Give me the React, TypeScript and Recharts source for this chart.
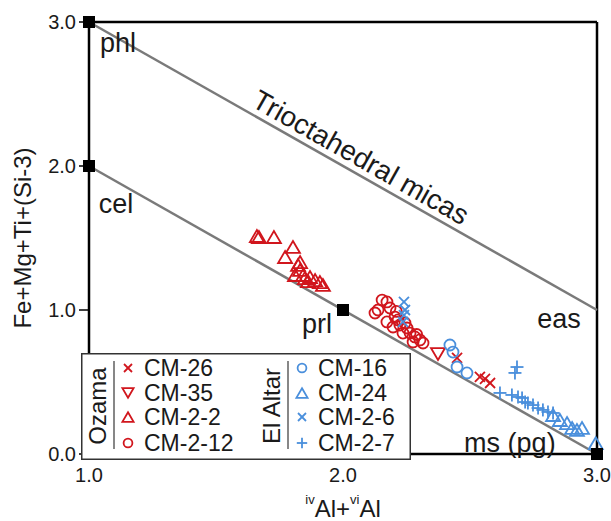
import React from 'react';
import {
  Legend,
  ReferenceDot,
  ReferenceLine,
  Scatter,
  ScatterChart,
  XAxis,
  YAxis,
} from 'recharts';

const RED = '#d1161d';
const BLUE = '#4a8fdc';
const GRAY = '#7a7a7a';

// Ozama
const cm26 = [
  { x: 2.449, y: 0.667 },
  { x: 2.539, y: 0.535 },
  { x: 2.559, y: 0.521 },
  { x: 2.579, y: 0.493 },
];
const cm35 = [{ x: 2.374, y: 0.694 }];
const cm2_2 = [
  { x: 1.661, y: 1.514 },
  { x: 1.669, y: 1.507 },
  { x: 1.728, y: 1.507 },
  { x: 1.803, y: 1.438 },
  { x: 1.772, y: 1.368 },
  { x: 1.831, y: 1.333 },
  { x: 1.823, y: 1.313 },
  { x: 1.831, y: 1.278 },
  { x: 1.811, y: 1.243 },
  { x: 1.843, y: 1.243 },
  { x: 1.85, y: 1.222 },
  { x: 1.87, y: 1.229 },
  { x: 1.862, y: 1.201 },
  { x: 1.89, y: 1.208 },
  { x: 1.909, y: 1.194 },
  { x: 1.921, y: 1.174 },
];
const cm2_12 = [
  { x: 2.154, y: 1.069 },
  { x: 2.173, y: 1.056 },
  { x: 2.138, y: 1.0 },
  { x: 2.126, y: 0.979 },
  { x: 2.185, y: 1.014 },
  { x: 2.205, y: 0.951 },
  { x: 2.217, y: 0.931 },
  { x: 2.173, y: 0.917 },
  { x: 2.224, y: 0.896 },
  { x: 2.252, y: 0.875 },
  { x: 2.264, y: 0.84 },
  { x: 2.283, y: 0.813 },
  { x: 2.303, y: 0.792 },
  { x: 2.315, y: 0.771 },
  { x: 2.197, y: 0.882 },
  { x: 2.236, y: 0.84 },
  { x: 2.276, y: 0.778 },
  { x: 2.244, y: 0.91 },
  { x: 2.29, y: 0.83 },
  { x: 2.21, y: 0.99 },
];

// El Altar
const cm16 = [
  { x: 2.421, y: 0.757 },
  { x: 2.433, y: 0.708 },
  { x: 2.449, y: 0.604 },
  { x: 2.488, y: 0.563 },
];
const cm24 = [
  { x: 2.827, y: 0.271 },
  { x: 2.854, y: 0.236 },
  { x: 2.882, y: 0.215 },
  { x: 2.902, y: 0.181 },
  { x: 2.921, y: 0.167 },
  { x: 2.941, y: 0.181 },
  { x: 2.995, y: 0.075 },
];
const cm2_6 = [
  { x: 2.24, y: 1.056 },
  { x: 2.244, y: 1.0 },
  { x: 2.24, y: 0.965 },
  { x: 2.236, y: 0.917 },
];
const cm2_7 = [
  { x: 2.685, y: 0.604 },
  { x: 2.677, y: 0.563 },
  { x: 2.618, y: 0.424 },
  { x: 2.665, y: 0.41 },
  { x: 2.689, y: 0.396 },
  { x: 2.705, y: 0.389 },
  { x: 2.717, y: 0.361 },
  { x: 2.728, y: 0.354 },
  { x: 2.748, y: 0.34 },
  { x: 2.768, y: 0.319 },
  { x: 2.787, y: 0.306 },
  { x: 2.807, y: 0.292 },
  { x: 2.827, y: 0.285 },
];

// end members and the two reference lines
const endMembers = [
  { x: 1, y: 3 },
  { x: 1, y: 2 },
  { x: 2, y: 1 },
  { x: 3, y: 0 },
];
const trioctaLine = [
  { x: 1, y: 3 },
  { x: 3, y: 1 },
];
const dioctaLine = [
  { x: 1, y: 2 },
  { x: 3, y: 0 },
];

const annotations = [
  { x: 1.114, y: 2.861, text: 'phl', angle: 0 },
  { x: 1.106, y: 1.743, text: 'cel', angle: 0 },
  { x: 1.898, y: 0.91, text: 'prl', angle: 0 },
  { x: 2.85, y: 0.944, text: 'eas', angle: 0 },
  { x: 2.657, y: 0.083, text: 'ms (pg)', angle: 0 },
  { x: 2.071, y: 2.062, text: 'Trioctahedral micas', angle: 29.55 },
];

const xTicks = [1, 2, 3];
const yTicks = [0, 1, 2, 3];

type Kind = 'x' | 'down' | 'up' | 'o' | 'plus';

const Marker = ({ kind, cx, cy, color, s = 1 }: any) => {
  const sw = 1.8;
  if (kind === 'x') {
    const h = 5 * s;
    return (
      <g stroke={color} strokeWidth={sw}>
        <line x1={cx - h} y1={cy - h} x2={cx + h} y2={cy + h} />
        <line x1={cx - h} y1={cy + h} x2={cx + h} y2={cy - h} />
      </g>
    );
  }
  if (kind === 'plus') {
    const h = 6.5 * s;
    return (
      <g stroke={color} strokeWidth={sw}>
        <line x1={cx - h} y1={cy} x2={cx + h} y2={cy} />
        <line x1={cx} y1={cy - h} x2={cx} y2={cy + h} />
      </g>
    );
  }
  if (kind === 'o') {
    return <circle cx={cx} cy={cy} r={5.5 * s} fill="none" stroke={color} strokeWidth={sw} />;
  }
  const w = 7 * s;
  const h = 6 * s;
  const pts =
    kind === 'up'
      ? `${cx},${cy - h} ${cx + w},${cy + h} ${cx - w},${cy + h}`
      : `${cx},${cy + h} ${cx + w},${cy - h} ${cx - w},${cy - h}`;
  return <polygon points={pts} fill="none" stroke={color} strokeWidth={sw} strokeLinejoin="miter" />;
};

const series: { name: string; data: any[]; kind: Kind; color: string }[] = [
  { name: 'CM-26', data: cm26, kind: 'x', color: RED },
  { name: 'CM-35', data: cm35, kind: 'down', color: RED },
  { name: 'CM-2-2', data: cm2_2, kind: 'up', color: RED },
  { name: 'CM-2-12', data: cm2_12, kind: 'o', color: RED },
  { name: 'CM-16', data: cm16, kind: 'o', color: BLUE },
  { name: 'CM-24', data: cm24, kind: 'up', color: BLUE },
  { name: 'CM-2-6', data: cm2_6, kind: 'x', color: BLUE },
  { name: 'CM-2-7', data: cm2_7, kind: 'plus', color: BLUE },
];

const groups = [
  { title: 'Ozama', items: series.slice(0, 4) },
  { title: 'El Altar', items: series.slice(4) },
];

const LegendBox = () => {
  const rows = [15, 40, 64, 90];
  return (
    <svg width={330} height={107} style={{ display: 'block' }}>
      <rect x={0.75} y={0.75} width={328.5} height={105.5} fill="#fff" stroke="#333" strokeWidth={1.5} />
      {groups.map((g, gi) => {
        const ox = gi * 174;
        return (
          <g key={g.title}>
            <text
              x={ox + 16}
              y={53}
              transform={`rotate(-90 ${ox + 16} 53)`}
              textAnchor="middle"
              dominantBaseline="central"
              fontSize={24}
              fill="#1a1a1a"
            >
              {g.title}
            </text>
            <line x1={ox + 33} y1={8} x2={ox + 33} y2={96} stroke={GRAY} strokeWidth={1.8} />
            {g.items.map((it, i) => (
              <g key={it.name}>
                <Marker kind={it.kind} cx={ox + 47} cy={rows[i]} color={it.color} s={0.8} />
                <text x={ox + 63} y={rows[i]} dominantBaseline="central" fontSize={23} fill="#1a1a1a">
                  {it.name}
                </text>
              </g>
            ))}
          </g>
        );
      })}
    </svg>
  );
};

const YTitle = (props: any) => {
  const vb = props.viewBox || { x: 0, y: 22, width: 89, height: 432 };
  const cx = vb.x + 22;
  const cy = vb.y + vb.height / 2;
  return (
    <text
      x={cx}
      y={cy}
      transform={`rotate(-90 ${cx} ${cy})`}
      textAnchor="middle"
      dominantBaseline="central"
      fontSize={24}
      fill="#1a1a1a"
    >
      Fe+Mg+Ti+(Si-3)
    </text>
  );
};

const XTitle = (props: any) => {
  const vb = props.viewBox || { x: 89, y: 454, width: 508, height: 67 };
  const cx = vb.x + vb.width / 2;
  const cy = vb.y + 54;
  return (
    <text x={cx} y={cy} textAnchor="middle" dominantBaseline="central" fill="#1a1a1a" fontSize={24}>
      <tspan fontSize={13} dy={-9}>iv</tspan>
      <tspan dy={9}>Al+</tspan>
      <tspan fontSize={13} dy={-9}>vi</tspan>
      <tspan dy={9}>Al</tspan>
    </text>
  );
};

const Square = (props: any) => (
  <rect x={props.cx - 6} y={props.cy - 6} width={12} height={12} fill="#000" />
);

export default function App() {
  return (
    <div
      style={{
        position: 'absolute',
        left: 0,
        top: 0,
        width: 611,
        height: 521,
        background: '#fff',
        fontFamily: '"Liberation Sans", Arial, sans-serif',
      }}
    >
      <ScatterChart width={611} height={521} margin={{ top: 22, right: 14, left: 0, bottom: 0 }}>
        <XAxis
          type="number"
          dataKey="x"
          domain={[1, 3]}
          ticks={xTicks}
          tickFormatter={(v: number) => v.toFixed(1)}
          height={67}
          tickSize={6}
          tickMargin={8}
          axisLine={{ stroke: '#000', strokeWidth: 2.5 }}
          tickLine={{ stroke: '#000', strokeWidth: 1.5 }}
          tick={{ fontSize: 20, fill: '#1a1a1a' }}
          label={{ content: XTitle }}
        />
        <YAxis
          type="number"
          dataKey="y"
          domain={[0, 3]}
          ticks={yTicks}
          tickFormatter={(v: number) => v.toFixed(1)}
          width={89}
          tickSize={10}
          tickMargin={3}
          axisLine={{ stroke: '#000', strokeWidth: 2.5 }}
          tickLine={{ stroke: '#000', strokeWidth: 1.5 }}
          tick={{ fontSize: 20, fill: '#1a1a1a' }}
          label={{ content: YTitle }}
        />
        <ReferenceLine y={3} stroke="#000" strokeWidth={2.5} />
        <ReferenceLine x={3} stroke="#000" strokeWidth={2.5} />
        <ReferenceLine segment={trioctaLine} stroke={GRAY} strokeWidth={2.5} />
        <ReferenceLine segment={dioctaLine} stroke={GRAY} strokeWidth={2.5} />
        {annotations.map((a) => (
          <ReferenceDot
            key={a.text}
            x={a.x}
            y={a.y}
            r={0}
            fill="none"
            stroke="none"
            label={{
              value: a.text,
              position: 'center',
              angle: a.angle,
              fontSize: a.angle ? 28 : 27,
              fill: '#1a1a1a',
            }}
          />
        ))}
        {series.map((s) => (
          <Scatter
            key={s.name}
            name={s.name}
            data={s.data}
            isAnimationActive={false}
            shape={(p: any) => <Marker kind={s.kind} cx={p.cx} cy={p.cy} color={s.color} />}
          />
        ))}
        <Scatter data={endMembers} isAnimationActive={false} shape={Square} legendType="none" />
        <Legend
          layout="vertical"
          verticalAlign="middle"
          align="center"
          content={() => <LegendBox />}
          wrapperStyle={{ position: 'absolute', left: 81, top: 353, width: 330, height: 107 }}
        />
      </ScatterChart>
    </div>
  );
}
